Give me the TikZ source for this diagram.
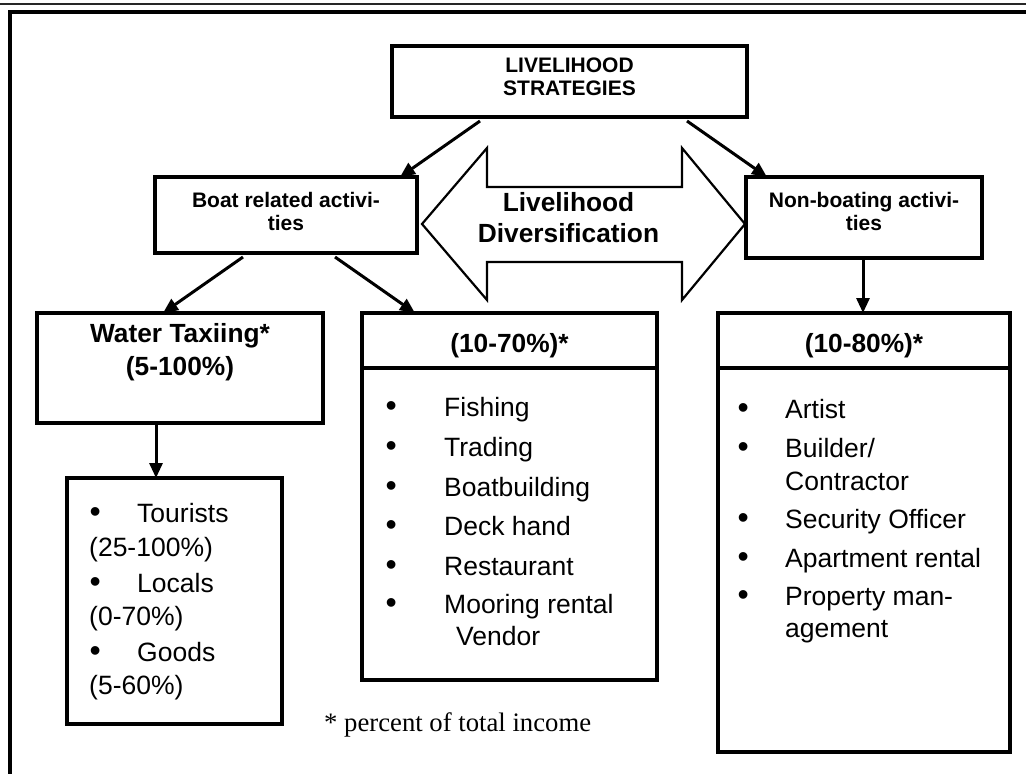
\documentclass[tikz,border=0pt]{standalone}
\usepackage{fontspec}
\setmainfont{Liberation Serif}
\newfontfamily\arial{Liberation Sans}
\usetikzlibrary{arrows.meta}
\newcommand\bl[1]{\llap{\makebox[#1][l]{{\fontsize{32}{32}\selectfont\textbullet}}}}
\begin{document}
\begin{tikzpicture}[x=1pt,y=-1pt,
  box/.style={draw, line width=3.5pt, fill=white, inner sep=0pt, outer sep=0pt, rectangle},
  conn/.style={line width=3pt, -{Triangle[length=15pt,width=13pt]}},
  tb/.style={font=\arial\bfseries\fontsize{21}{23}\selectfont, inner sep=0pt, anchor=base},
  hb/.style={font=\arial\bfseries\fontsize{26.3}{30}\selectfont, inner sep=0pt, anchor=base},
  it/.style={font=\arial\fontsize{26.5}{30}\selectfont, inner sep=0pt, anchor=base west},
  fnote/.style={font=\fontsize{26.7}{30}\selectfont, inner sep=0pt, anchor=base west}
]
\useasboundingbox (0,0) rectangle (1026,774);
% page frame
\draw[line width=2.5pt, black!85] (0,4) -- (1026,4);
\draw[line width=4pt] (9.5,780) -- (9.5,12) -- (1030,12);

% double arrow
\draw[line width=2.2pt, fill=white, line join=miter]
  (422,224) -- (487,148) -- (487,187) -- (682,187) -- (682,148) -- (745,224)
  -- (682,300) -- (682,262) -- (487,262) -- (487,300) -- cycle;
\node[hb] (d1) at (568.5,211) {Livelihood};
\node[hb] (d2) at (568.5,242) {Diversification};

% boxes
\node[box, minimum width=355pt, minimum height=71pt] (top) at (569.5,81.5) {};
\node[box, minimum width=262pt, minimum height=76pt] (boat) at (286,215) {};
\node[box, minimum width=236pt, minimum height=81pt] (nonboat) at (864,217.5) {};
\node[box, minimum width=286pt, minimum height=110pt] (water) at (180,368) {};
\node[box, minimum width=215pt, minimum height=246pt] (tourist) at (174.5,601) {};
\node[box, minimum width=295pt, minimum height=367pt] (mid) at (509.5,496.5) {};
\node[box, minimum width=292pt, minimum height=439pt] (right) at (864,532.5) {};
\draw[line width=3.5pt] ([yshift=-55pt]mid.north west) -- ([yshift=-55pt]mid.north east);
\draw[line width=3.5pt] ([yshift=-55pt]right.north west) -- ([yshift=-55pt]right.north east);

% box texts
\node[tb] (t1) at (569.5,72) {LIVELIHOOD};
\node[tb] (t2) at (569.5,95) {STRATEGIES};
\node[tb] (b1) at (286,207) {Boat related activi-};
\node[tb] (b2) at (286,230) {ties};
\node[tb] (n1) at (864,207) {Non-boating activi-};
\node[tb] (n2) at (864,230) {ties};
\node[hb] (w1) at (180,342) {Water Taxiing*};
\node[hb] (w2) at (180,375) {(5-100\%)};
\node[hb] (m0) at (509.5,352) {(10-70\%)*};
\node[hb] (r0) at (864,352) {(10-80\%)*};

% tourist list
\node[it] (tl1) at (137,522) {\bl{47.6pt}Tourists};
\node[it] (tl2) at (89,556) {(25-100\%)};
\node[it] (tl3) at (137,592) {\bl{47.6pt}Locals};
\node[it] (tl4) at (89,625.6) {(0-70\%)};
\node[it] (tl5) at (137,661) {\bl{47.6pt}Goods};
\node[it] (tl6) at (89,694) {(5-60\%)};

% middle list
\node[it] (ml1) at (444,416.6) {\bl{58.6pt}Fishing};
\node[it] (ml2) at (444,456.6) {\bl{58.6pt}Trading};
\node[it] (ml3) at (444,496) {\bl{58.6pt}Boatbuilding};
\node[it] (ml4) at (444,535.6) {\bl{58.6pt}Deck hand};
\node[it] (ml5) at (444,575.6) {\bl{58.6pt}Restaurant};
\node[it] (ml6) at (444,613.6) {\bl{58.6pt}Mooring rental};
\node[it] (ml7) at (456,645) {Vendor};

% right list
\node[it] (rl1) at (785,418.6) {\bl{47.6pt}Artist};
\node[it] (rl2) at (785,457) {\bl{47.6pt}Builder/};
\node[it] (rl3) at (785,490.6) {Contractor};
\node[it] (rl4) at (785,528.6) {\bl{47.6pt}Security Officer};
\node[it] (rl5) at (785,567) {\bl{47.6pt}Apartment rental};
\node[it] (rl6) at (785,605) {\bl{47.6pt}Property man-};
\node[it] (rl7) at (785,637) {agement};

% footnote
\node[fnote] (fn) at (324,731) {* percent of total income};

% connectors
\draw[conn] ([xshift=88pt,yshift=-4pt]top.south west) -- ([xshift=-17pt]boat.north east);
\draw[conn] ([xshift=-60pt,yshift=-4pt]top.south east) -- ([xshift=21pt]nonboat.north west);
\draw[conn] ([xshift=88pt,yshift=-4pt]boat.south west) -- ([xshift=126pt]water.north west);
\draw[conn] ([xshift=180pt,yshift=-4pt]boat.south west) -- ([xshift=53pt]mid.north west);
\draw[conn] ([xshift=119pt]water.south west) -- ([xshift=89pt]tourist.north west);
\draw[conn] ([xshift=117pt]nonboat.south west) -- ([xshift=145pt]right.north west);
\end{tikzpicture}
\end{document}
